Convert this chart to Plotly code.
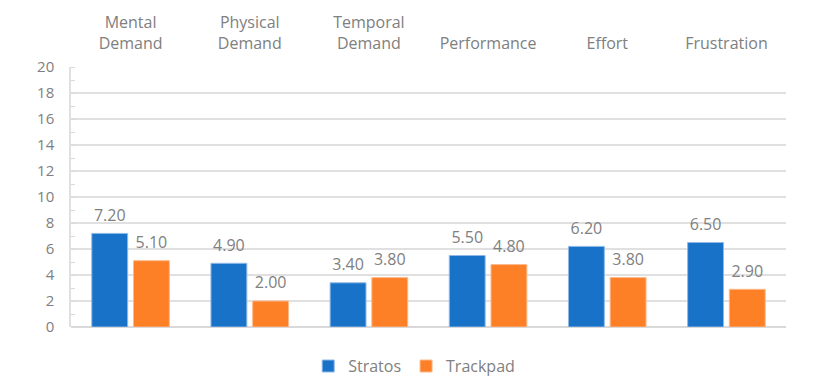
import plotly.graph_objects as go

categories = ["Mental<br>Demand", "Physical<br>Demand", "Temporal<br>Demand", "Performance", "Effort", "Frustration"]
stratos = [7.2, 4.9, 3.4, 5.5, 6.2, 6.5]
trackpad = [5.1, 2.0, 3.8, 4.8, 3.8, 2.9]
y_ticks = list(range(0, 21, 2))

GRAY = "#808080"
font = dict(family="Open Sans, Noto Sans, sans-serif", size=15, color=GRAY)


def label(v):
    return f"<span style='font-size:16px'>{v:.2f}</span><br> "


fig = go.Figure()
fig.add_trace(go.Bar(name="Stratos", x=categories, y=stratos, marker_color="#1872c8",
                     marker_line=dict(color="#8fb8e6", width=1),
                     text=[label(v) for v in stratos], textposition="outside",
                     textfont=dict(size=6, color=GRAY), cliponaxis=False))
fig.add_trace(go.Bar(name="Trackpad", x=categories, y=trackpad, marker_color="#fd7f26",
                     marker_line=dict(color="#fdb98a", width=1),
                     text=[label(v) for v in trackpad], textposition="outside",
                     textfont=dict(size=6, color=GRAY), cliponaxis=False))

# page body has an 8px default margin, so the figure is sized/offset to compensate
fig.update_layout(
    width=825, height=380,
    margin=dict(l=63, r=47, t=59, b=61, autoexpand=False),
    paper_bgcolor="white", plot_bgcolor="white",
    font=font,
    barmode="group", bargap=0.3, bargroupgap=0.14,
    showlegend=True,
    legend=dict(orientation="h", x=0.48, xanchor="center", y=-0.085, yanchor="top",
                font=dict(size=16, color=GRAY), itemwidth=30, traceorder="normal"),
    xaxis=dict(side="top", showgrid=False, showline=False, ticks="", tickfont=dict(size=16),
               automargin=False, ticklabelstandoff=14),
    yaxis=dict(range=[0, 20], tickvals=y_ticks, showgrid=True, gridcolor="#e0e0e0", gridwidth=1.5,
               showline=True, linecolor="#e0e0e0", linewidth=1.5, zeroline=True, zerolinecolor="#d9d9d9",
               zerolinewidth=1.5, ticks="", tickfont=dict(size=15), ticklabelstandoff=12,
               automargin=False,
               minor=dict(dtick=1, ticks="inside", ticklen=4, tickcolor="#d9d9d9", showgrid=False)),
)

fig.write_html("out.html")
